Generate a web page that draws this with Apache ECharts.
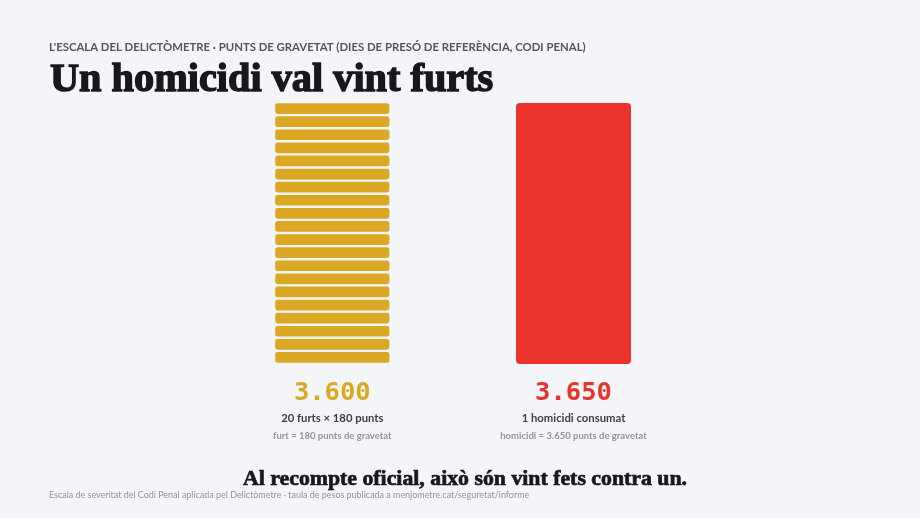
<!DOCTYPE html>
<html><head><meta charset="utf-8">
<style>html,body{margin:0;padding:0;background:#f4f5f8}#c{width:920px;height:518px}</style>
<script src="https://cdn.jsdelivr.net/npm/echarts@6/dist/echarts.min.js"></script>
</head><body><div id="c"></div>
<script>
const kicker = "L'ESCALA DEL DELICTÒMETRE · PUNTS DE GRAVETAT (DIES DE PRESÓ DE REFERÈNCIA, CODI PENAL)";
const headline = "Un homicidi val vint furts";
const closing = "Al recompte oficial, això són vint fets contra un.";
const sourceNote = "Escala de severitat del Codi Penal aplicada pel Delictòmetre · taula de pesos publicada a menjometre.cat/seguretat/informe";
const categories = ["furts", "homicidi"];
const theftSegments = [180,180,180,180,180,180,180,180,180,180,180,180,180,180,180,180,180,180,180,180];
const homicideValue = 3650;
const totals = ["3.600", "3.650"];
const detailLines = ["20 furts × 180 punts", "1 homicidi consumat"];
const noteLines = ["furt = 180 punts de gravetat", "homicidi = 3.650 punts de gravetat"];

const BG = "#f4f5f8", GOLD = "#daa823", RED = "#e9332c";
const SANS = "Lato, 'Open Sans', sans-serif";
const SERIF = "'Liberation Serif', serif";
const MONO = "'DejaVu Sans Mono', monospace";

const series = theftSegments.map(v => ({
  type: "bar", stack: "furts", xAxisIndex: 0, yAxisIndex: 0,
  barWidth: 116.6, silent: true,
  data: [v],
  itemStyle: { color: GOLD, borderColor: BG, borderWidth: 1.2, borderRadius: 3 }
}));
series.push({
  type: "bar", xAxisIndex: 1, yAxisIndex: 1,
  barWidth: 115, silent: true,
  data: [homicideValue],
  itemStyle: { color: RED, borderRadius: 4 }
});

const axisLabel = i => ({
  interval: 0, margin: 14,
  formatter: () => `{t|${totals[i]}}\n{d|${detailLines[i]}}\n{n|${noteLines[i]}}`,
  rich: {
    t: { fontFamily: MONO, fontWeight: 700, fontSize: 25.5, color: i === 0 ? GOLD : RED, lineHeight: 30, align: "center" },
    d: { fontFamily: SANS, fontWeight: 700, fontSize: 11.3, color: "#3f4047", lineHeight: 20, align: "center" },
    n: { fontFamily: SANS, fontWeight: 700, fontSize: 9.5, color: "#94959d", lineHeight: 16, align: "center" }
  }
});

const chart = echarts.init(document.getElementById("c"), null, { renderer: "canvas" });
chart.setOption({
  animation: false,
  backgroundColor: BG,
  title: [
    { text: kicker, left: 44, top: 37, textStyle: { fontFamily: SANS, fontSize: 11.35, fontWeight: 700, color: "#55565e" } },
    { text: headline, left: 45, top: 56, textStyle: { fontFamily: SERIF, fontSize: 40.3, fontWeight: 700, color: "#17181d", textBorderColor: "#17181d", textBorderWidth: 1.4 } },
    { text: closing, left: 460, textAlign: "center", top: 463, textStyle: { fontFamily: SERIF, fontSize: 21.8, fontWeight: 700, color: "#17181d", textBorderColor: "#17181d", textBorderWidth: 0.7 } },
    { text: sourceNote, left: 44, top: 486, textStyle: { fontFamily: SANS, fontSize: 8.95, fontWeight: 400, color: "#94959d" } }
  ],
  grid: [
    { left: 272.3, width: 120, top: 102, height: 262 },
    { left: 513.5, width: 120, top: 103, height: 261 }
  ],
  xAxis: [0, 1].map(i => ({
    type: "category", gridIndex: i, data: [categories[i]],
    axisLine: { show: false }, axisTick: { show: false },
    axisLabel: axisLabel(i)
  })),
  yAxis: [
    { type: "value", gridIndex: 0, min: 0, max: 3600, show: false, splitLine: { show: false } },
    { type: "value", gridIndex: 1, min: 0, max: 3650, show: false, splitLine: { show: false } }
  ],
  series
});
</script></body></html>
